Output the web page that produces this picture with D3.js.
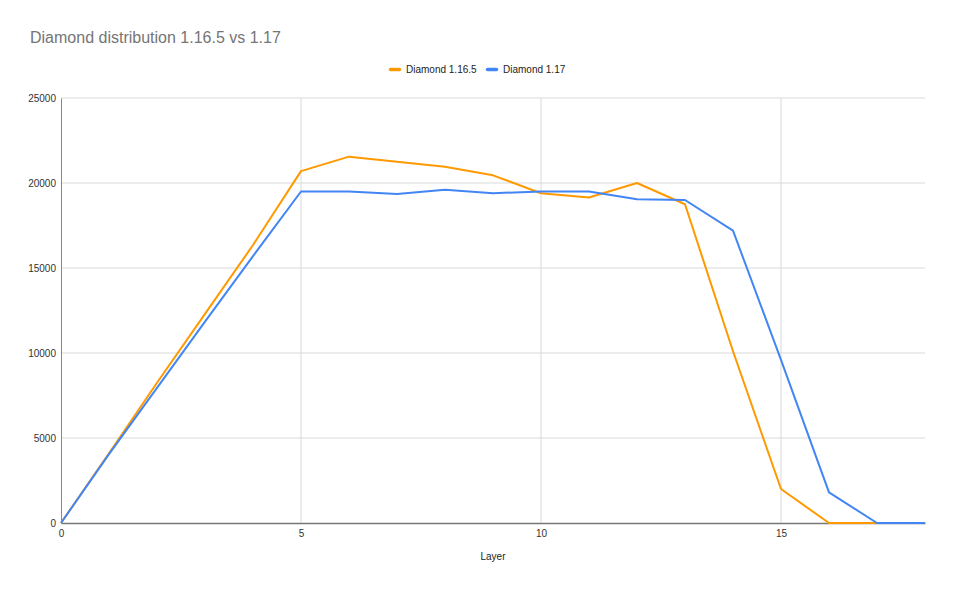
<!DOCTYPE html>
<html>
<head>
<meta charset="utf-8">
<script src="https://cdn.jsdelivr.net/npm/d3@7"></script>
<style>
  body { margin: 0; background: #fff; font-family: Arial, "Liberation Sans", sans-serif; }
</style>
</head>
<body>
<div id="chart"></div>
<script>
// Data
const layers = d3.range(0, 19);
const seriesNames = ["Diamond 1.16.5", "Diamond 1.17"];
const diamond1165 = [0, 4100, 8250, 12300, 16350, 20700, 21550, 21250, 20950, 20450, 19400, 19150, 20000, 18750, 10100, 2000, 0, 0, 0];
const diamond117 = [0, 4050, 7950, 11850, 15700, 19500, 19500, 19350, 19600, 19400, 19500, 19500, 19050, 19000, 17200, 9600, 1800, 0, 0];
const yTicks = [0, 5000, 10000, 15000, 20000, 25000];
const xTicks = [0, 5, 10, 15];

// Configuration
const config = {
    width: 954,
    height: 591,
    margin: { top: 98, right: 29, bottom: 68, left: 61 },
    colors: ["#ff9900", "#4285f4"],
    font: "Arial, 'Liberation Sans', sans-serif"
};

const svg = d3.select("#chart").append("svg")
    .attr("width", config.width)
    .attr("height", config.height);

const innerW = config.width - config.margin.left - config.margin.right;
const innerH = config.height - config.margin.top - config.margin.bottom;

const g = svg.append("g")
    .attr("transform", `translate(${config.margin.left},${config.margin.top})`);

const x = d3.scaleLinear().domain([0, 18]).range([0, innerW]);
const y = d3.scaleLinear().domain([0, 25000]).range([innerH, 0]);

// Grid lines
g.selectAll(".hgrid")
    .data(yTicks.filter(d => d > 0))
    .enter()
    .append("line")
    .attr("x1", 0)
    .attr("x2", innerW)
    .attr("y1", d => y(d))
    .attr("y2", d => y(d))
    .attr("stroke", "#d9d9d9")
    .attr("stroke-width", 1);

g.selectAll(".vgrid")
    .data(xTicks.filter(d => d > 0))
    .enter()
    .append("line")
    .attr("x1", d => x(d))
    .attr("x2", d => x(d))
    .attr("y1", 0)
    .attr("y2", innerH)
    .attr("stroke", "#d9d9d9")
    .attr("stroke-width", 1);

// Axes
const yAxis = d3.axisLeft(y).tickValues(yTicks).tickFormat(d3.format("d")).tickSize(0).tickPadding(5);
g.append("g")
    .call(yAxis)
    .call(a => a.select(".domain").attr("stroke", "#888").attr("stroke-width", 1))
    .selectAll("text")
    .attr("fill", "#333")
    .attr("font-size", "10px")
    .attr("font-family", config.font);

const xAxis = d3.axisBottom(x).tickValues(xTicks).tickSize(0).tickPadding(7);
g.append("g")
    .attr("transform", `translate(0,${innerH})`)
    .call(xAxis)
    .call(a => a.select(".domain").attr("stroke", "#777").attr("stroke-width", 1.5))
    .selectAll("text")
    .attr("fill", "#333")
    .attr("font-size", "10px")
    .attr("font-family", config.font);

// Lines
const line = d3.line()
    .x((d, i) => x(layers[i]))
    .y(d => y(d));

[diamond1165, diamond117].forEach((values, i) => {
    g.append("path")
        .datum(values)
        .attr("fill", "none")
        .attr("stroke", config.colors[i])
        .attr("stroke-width", 2)
        .attr("stroke-linejoin", "round")
        .attr("d", line);
});

// Title
svg.append("text")
    .attr("x", 30)
    .attr("y", 43)
    .attr("fill", "#757575")
    .attr("font-size", "16px")
    .attr("font-family", config.font)
    .text("Diamond distribution 1.16.5 vs 1.17");

// X axis title
svg.append("text")
    .attr("x", 493)
    .attr("y", 560)
    .attr("text-anchor", "middle")
    .attr("fill", "#222")
    .attr("font-size", "10px")
    .attr("font-family", config.font)
    .text("Layer");

// Legend
const legendPos = [390, 487];
const legend = svg.append("g").attr("transform", "translate(0,69.5)");
seriesNames.forEach((name, i) => {
    const item = legend.append("g").attr("transform", `translate(${legendPos[i]},0)`);
    item.append("line")
        .attr("x1", 0.5).attr("x2", 9.5)
        .attr("y1", 0).attr("y2", 0)
        .attr("stroke", config.colors[i])
        .attr("stroke-width", 3.5)
        .attr("stroke-linecap", "round");
    item.append("text")
        .attr("x", 16)
        .attr("y", 3.5)
        .attr("fill", "#222")
        .attr("font-size", "10px")
        .attr("font-family", config.font)
        .text(name);
});
</script>
</body>
</html>
